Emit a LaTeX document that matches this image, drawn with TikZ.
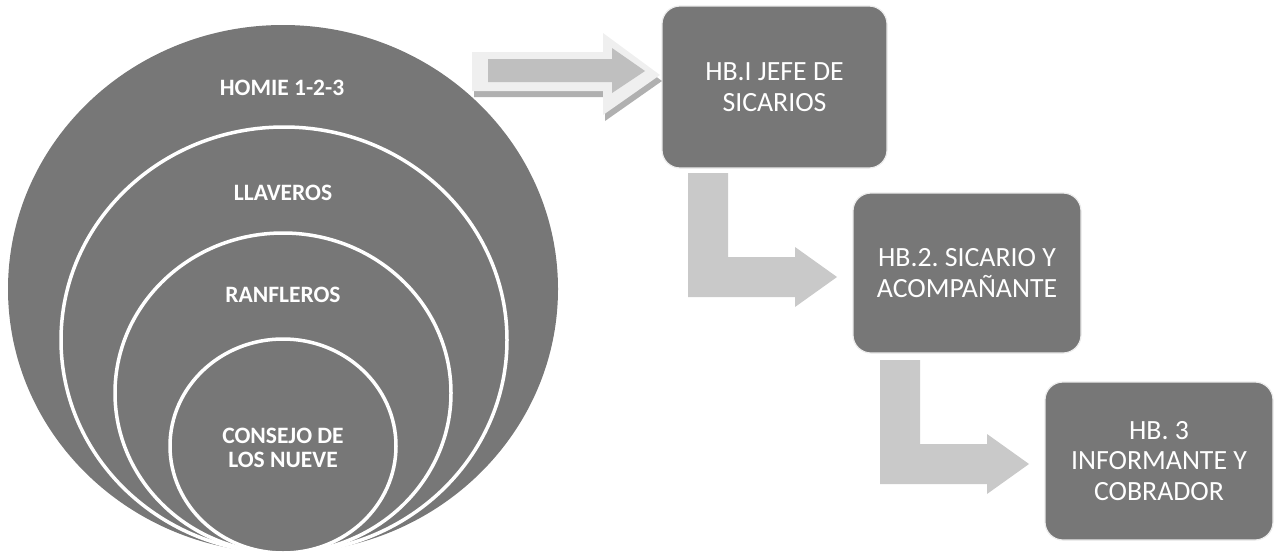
\documentclass[tikz,border=0pt]{standalone}
\usepackage{fontspec}
\setmainfont{Carlito}
\frenchspacing
\definecolor{cgray}{HTML}{777777}
\definecolor{agray}{HTML}{C9C9C9}
\definecolor{alight}{HTML}{EFEFEF}
\definecolor{amid}{HTML}{BFBFBF}
\definecolor{ashadow}{HTML}{B0B0B0}
\begin{document}
\begin{tikzpicture}[x=1pt,y=-1pt,
  ring/.style={fill=cgray, draw=white, line width=3.5pt},
  ctext/.style={text=white, font=\fontsize{23.5}{24}\selectfont\bfseries, align=center, inner sep=0pt},
  hbbox/.style={rectangle, rounded corners=18pt, fill=cgray, draw=white!92!black, line width=1.2pt, text=white, font=\fontsize{27.8}{30.5}\selectfont, align=center, inner sep=0pt},
  bent/.style={fill=agray}]
\useasboundingbox (0,0) rectangle (1276,552);
% nested circles
\fill[cgray] (283,289) ellipse [x radius=275pt, y radius=264pt];
\draw[ring] (284,340) ellipse [x radius=223pt, y radius=213pt];
\draw[ring] (283,393) ellipse [x radius=168pt, y radius=160pt];
\draw[ring] (283,446) ellipse [x radius=113pt, y radius=107pt];
\node[ctext] (homie) at (282,88) {HOMIE 1-2-3};
\node[ctext] (llaveros) at (283,193) {LLAVEROS};
\node[ctext] (ranfleros) at (283,295) {RANFLEROS};
\node[ctext] (consejo) at (283,448) {CONSEJO DE\\LOS NUEVE};
% boxes
\node[hbbox, minimum width=225pt, minimum height=162pt] (hb1) at (774.5,87) {HB.I JEFE DE\\SICARIOS};
\node[hbbox, minimum width=228pt, minimum height=160pt] (hb2) at (967,273) {HB.2. SICARIO Y\\ACOMPAÑANTE};
\node[hbbox, minimum width=228pt, minimum height=158pt] (hb3) at (1159,461) {HB. 3\\INFORMANTE Y\\COBRADOR};
% top block arrow
\fill[ashadow] (474,58)--(605,58)--(605,39)--(662,81)--(605,121)--(605,97)--(474,97)--cycle;
\fill[alight] (472,52)--(603,52)--(603,33)--(660,75)--(603,115)--(603,91)--(472,91)--cycle;
\fill[amid] (488,59)--(612,59)--(612,48)--(645,71)--(612,93)--(612,82)--(488,82)--cycle;
% bent arrows
\fill[bent] (688,173)--(728,173)--(728,257)--(795,257)--(795,247)--(837,277)--(795,307)--(795,297)--(688,297)--cycle;
\begin{scope}[shift={(192,187)}]
\fill[bent] (688,173)--(728,173)--(728,257)--(795,257)--(795,247)--(837,277)--(795,307)--(795,297)--(688,297)--cycle;
\end{scope}
\end{tikzpicture}
\end{document}
